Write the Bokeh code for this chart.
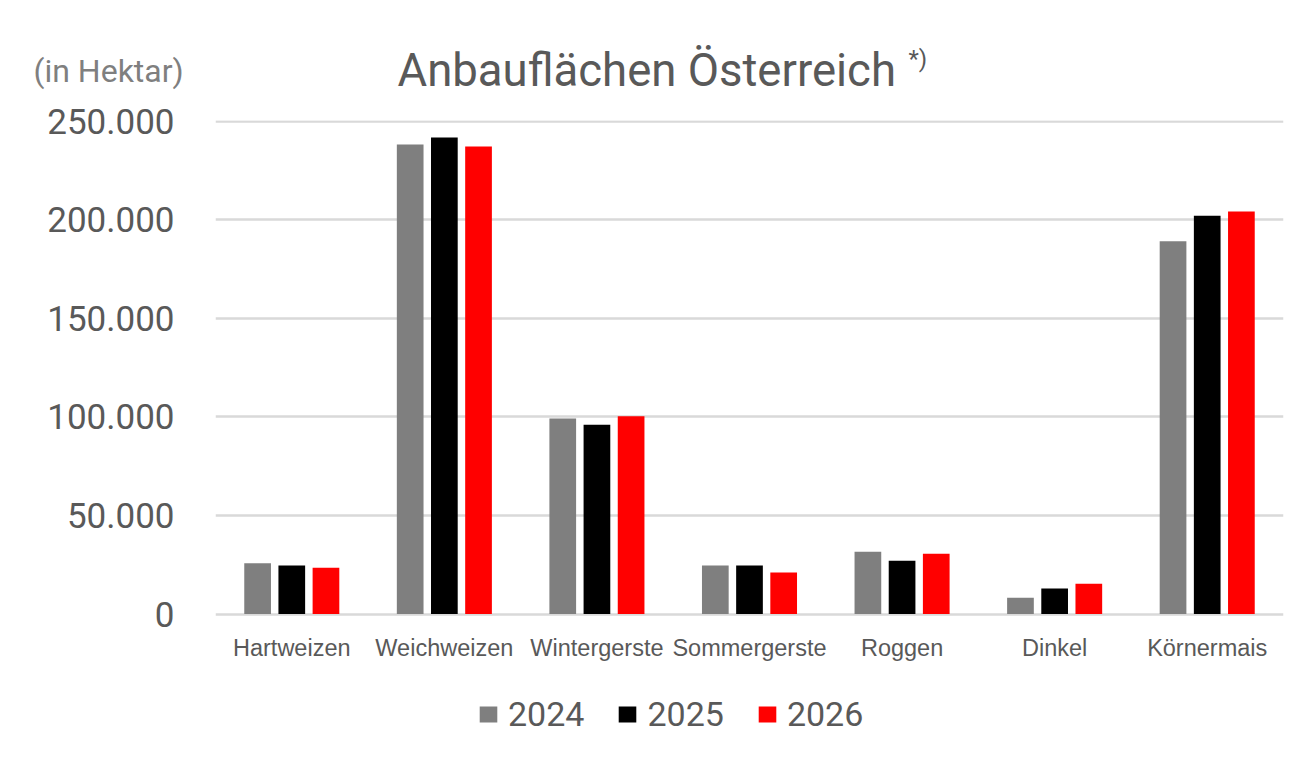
from bokeh.plotting import figure
from bokeh.models import ColumnDataSource, FactorRange, Range1d, FixedTicker, Legend, LegendItem, Label
from bokeh.transform import dodge
from bokeh.embed import file_html
from bokeh.resources import INLINE

categories = ["Hartweizen", "Weichweizen", "Wintergerste", "Sommergerste", "Roggen", "Dinkel", "Körnermais"]
years = ["2024", "2025", "2026"]
values_2024 = [25800, 238300, 99200, 24600, 31600, 8300, 189200]
values_2025 = [24600, 241900, 96000, 24600, 27000, 12900, 202100]
values_2026 = [23500, 237300, 100400, 21100, 30600, 15300, 204300]
colors = ["#7f7f7f", "#000000", "#ff0000"]
y_ticks = [0, 50000, 100000, 150000, 200000, 250000]

source = ColumnDataSource(data=dict(cat=categories, y2024=values_2024, y2025=values_2025, y2026=values_2026))

TXT = "#595959"
HA_PER_PX = 507.6          # vertical scale of the frame
ZERO_PX = 613.5            # page row of the zero line
FRAME_TOP = 120
FRAME_BOTTOM = 750


def page_y(py):
    """data value whose screen position is page row py"""
    return (ZERO_PX - py) * HA_PER_PX


p = figure(
    x_range=FactorRange(*categories, range_padding=0),
    y_range=Range1d(page_y(FRAME_BOTTOM), page_y(FRAME_TOP)),
    width=1299, height=758,
    output_backend="svg", toolbar_location=None,
    min_border_left=215, min_border_right=16, min_border_top=FRAME_TOP, min_border_bottom=758 - FRAME_BOTTOM,
    title=None,
)
p.outline_line_color = None
p.background_fill_color = "white"
p.border_fill_color = "white"

renderers = []
for col, off, c in zip(["y2024", "y2025", "y2026"], [-0.224, 0.0, 0.224], colors):
    r = p.vbar(x=dodge("cat", off, range=p.x_range), top=col, bottom=0, width=0.175,
               source=source, fill_color=c, line_color=None)
    renderers.append(r)

# axes
p.xgrid.grid_line_color = None
p.ygrid.grid_line_color = "#d9d9d9"
p.ygrid.grid_line_width = 2.5
p.yaxis.ticker = FixedTicker(ticks=y_ticks)
p.yaxis.major_label_overrides = {v: f"{v:,}".replace(",", ".") for v in y_ticks}
p.yaxis.axis_line_color = None
p.yaxis.major_tick_line_color = None
p.yaxis.minor_tick_line_color = None
p.yaxis.major_label_standoff = 35
p.yaxis.major_label_text_font = "Roboto"
p.yaxis.major_label_text_font_size = "35px"
p.yaxis.major_label_text_color = TXT

p.xaxis.fixed_location = 0
p.xaxis.axis_line_color = None
p.xaxis.major_tick_line_color = None
p.xaxis.minor_tick_line_color = None
p.xaxis.major_label_standoff = 15
p.xaxis.major_label_text_font = "Liberation Sans"
p.xaxis.major_label_text_font_size = "23.5px"
p.xaxis.major_label_text_color = TXT

legend = Legend(
    items=[LegendItem(label=y, renderers=[r]) for y, r in zip(years, renderers)],
    orientation="horizontal", location=(262, 16),
    glyph_width=22, glyph_height=20, label_standoff=9, spacing=32,
    padding=0, margin=0, border_line_color=None, background_fill_alpha=0,
    label_text_font="Roboto", label_text_font_size="34px", label_text_color=TXT,
)
p.add_layout(legend, "center")

p.add_layout(Label(x=182, y=page_y(70), x_units="screen", y_units="data", text="Anbauflächen Österreich",
                   text_font="Roboto", text_font_size="45.5px", text_color=TXT, text_baseline="alphabetic"), "above")
p.add_layout(Label(x=693, y=page_y(58), x_units="screen", y_units="data", text="*)",
                   text_font="Roboto", text_font_size="24px", text_color=TXT, text_baseline="alphabetic"), "above")
p.add_layout(Label(x=-182, y=page_y(70), x_units="screen", y_units="data", text="(in Hektar)",
                   text_font="Roboto", text_font_size="32px", text_color="#7f7f7f", text_baseline="alphabetic"), "above")

open("out.html", "w").write(file_html(p, INLINE))
